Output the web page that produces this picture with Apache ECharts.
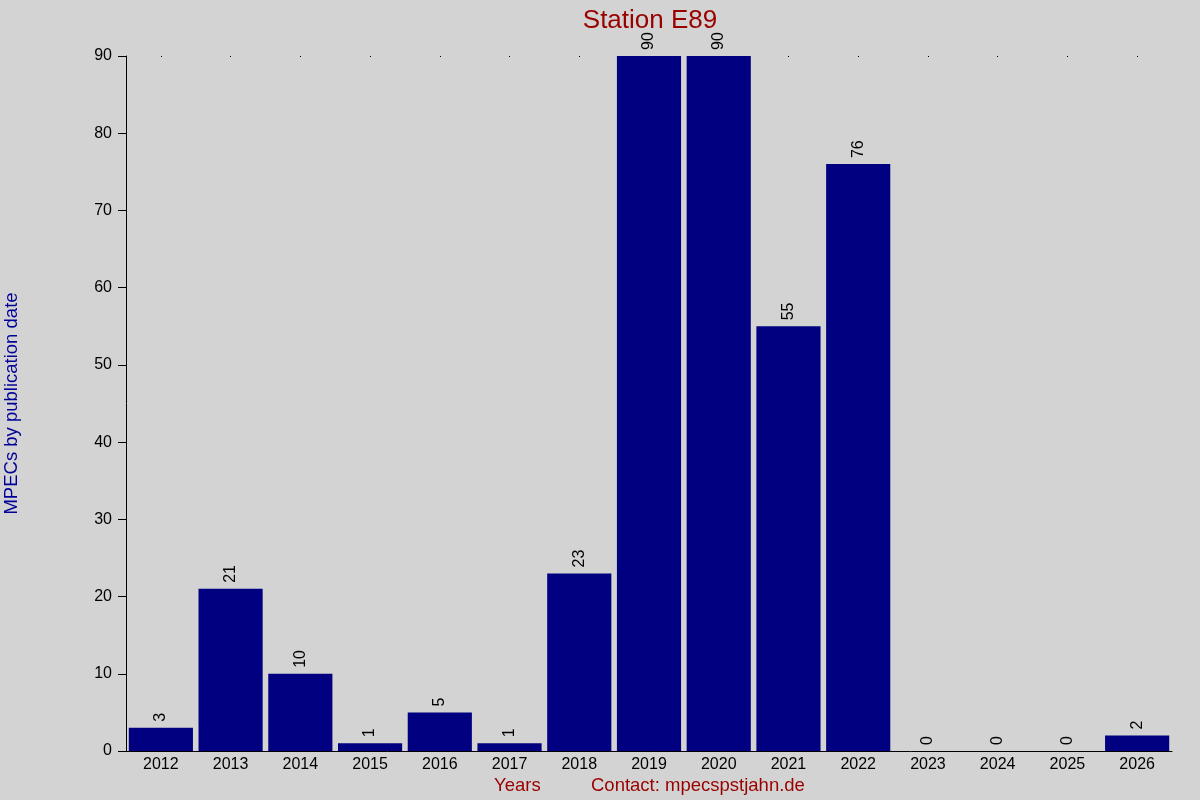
<!DOCTYPE html>
<html>
<head>
    <meta charset="UTF-8">
    <title>Station E89</title>
    <style>
        html, body { margin: 0; padding: 0; background: #d3d3d3; }
        #container { width: 1200px; height: 800px; }
    </style>
</head>
<body>
    <div id="container"></div>
    <script src="https://cdn.jsdelivr.net/npm/echarts@6/dist/echarts.min.js"></script>
    <script>
        var years = ['2012', '2013', '2014', '2015', '2016', '2017', '2018', '2019', '2020', '2021', '2022', '2023', '2024', '2025', '2026'];
        var counts = [3, 21, 10, 1, 5, 1, 23, 90, 90, 55, 76, 0, 0, 0, 2];
        var yTicks = { min: 0, max: 90, interval: 10 };

        var font = '"Liberation Sans", Arial, sans-serif';
        var myChart = echarts.init(document.getElementById('container'));
        myChart.setOption({
            backgroundColor: '#d3d3d3',
            animation: false,
            title: {
                text: 'Station E89',
                left: 645,
                textAlign: 'center',
                top: 3,
                textStyle: { color: '#990000', fontSize: 26, fontWeight: 'normal', fontFamily: font }
            },
            grid: { left: 126, right: 28, top: 56, bottom: 49, containLabel: false, outerBoundsMode: 'none' },
            xAxis: [{
                type: 'category',
                data: years,
                axisLine: { show: true, lineStyle: { color: '#000', width: 1 } },
                axisTick: { show: false },
                axisLabel: { color: '#000', fontSize: 16, fontFamily: font, margin: 6 }
            }, {
                // little dots along the top edge
                type: 'category',
                data: years,
                position: 'top',
                axisLine: { show: false },
                axisTick: { show: true, inside: true, length: 1, alignWithLabel: true, lineStyle: { color: '#000' } },
                axisLabel: { show: false }
            }],
            yAxis: {
                type: 'value',
                min: yTicks.min,
                max: yTicks.max,
                interval: yTicks.interval,
                name: 'MPECs by publication date',
                nameLocation: 'middle',
                nameGap: 105,
                nameTextStyle: { color: '#000099', fontSize: 18.5, fontFamily: font },
                axisLine: { show: true, lineStyle: { color: '#000', width: 1 } },
                axisTick: { show: true, length: 8, lineStyle: { color: '#000' } },
                axisLabel: { color: '#000', fontSize: 16, fontFamily: font, margin: 14 },
                splitLine: { show: false }
            },
            series: [{
                type: 'bar',
                data: counts,
                barCategoryGap: '8%',
                itemStyle: { color: '#000080' },
                label: {
                    show: true,
                    position: 'top',
                    rotate: 90,
                    align: 'left',
                    verticalAlign: 'middle',
                    distance: 6,
                    color: '#000',
                    fontSize: 16,
                    fontFamily: font
                }
            }],
            graphic: [{
                type: 'text',
                left: 494,
                top: 776,
                style: { text: 'Years', fill: '#990000', fontSize: 18.5, fontFamily: font }
            }, {
                type: 'text',
                left: 591,
                top: 776,
                style: { text: 'Contact: mpecspstjahn.de', fill: '#990000', fontSize: 18.5, fontFamily: font }
            }]
        });
    </script>
</body>
</html>
